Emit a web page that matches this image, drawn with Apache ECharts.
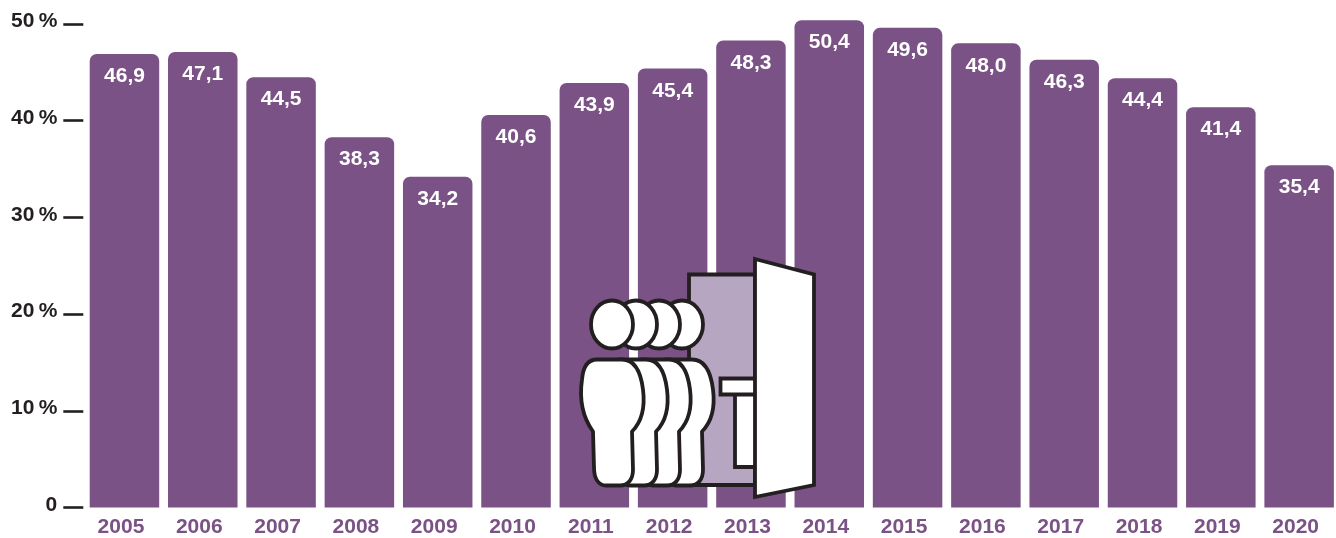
<!DOCTYPE html>
<html>
<head>
<meta charset="utf-8">
<style>html,body{margin:0;padding:0;background:#fff}#chart{width:1336px;height:538px}</style>
<script src="https://cdn.jsdelivr.net/npm/echarts@6/dist/echarts.min.js"></script>
</head>
<body>
<div id="chart"></div>
<script>
const years = ['2005','2006','2007','2008','2009','2010','2011','2012','2013','2014','2015','2016','2017','2018','2019','2020'];
const shares = [46.9,47.1,44.5,38.3,34.2,40.6,43.9,45.4,48.3,50.4,49.6,48.0,46.3,44.4,41.4,35.4];
const shareTicks = [0,10,20,30,40,50];

const PURPLE = '#7a5285';
const INK = '#231f20';
const FONT = '"Liberation Sans", Arial, sans-serif';
const comma = v => v.toFixed(1).replace('.', ',');

// Queue of people waiting at an open door, drawn over the bars
const bodyPath = 'M-15,0 C-25,0 -29,8 -30,20 C-32,34 -32,54 -19,72 L-18,108 C-18,120 -13,126 -6,126 L8,126 C16,126 21,120 21,110 L20,72 C30,62 33,46 31,30 C29,14 24,0 10,0 Z';
echarts.graphic.registerShape('personBody', echarts.graphic.extendPath(bodyPath, {}));

const personXs = [682, 659, 636, 612];
const line = { stroke: INK, lineWidth: 3.8, lineJoin: 'miter' };
const whiteLine = Object.assign({ fill: '#fff' }, line);
const roundLine = Object.assign({}, whiteLine, { lineJoin: 'round' });

const icon = [
  { type: 'rect', shape: { x: 689, y: 274.5, width: 66, height: 210.5 }, style: Object.assign({ fill: '#b7a6c2' }, line) },
  { type: 'rect', shape: { x: 735, y: 393, width: 22, height: 74 }, style: whiteLine },
  { type: 'rect', shape: { x: 720.5, y: 378.5, width: 36, height: 16 }, style: whiteLine },
  { type: 'polygon', shape: { points: [[755,259],[814,274.5],[814,485],[755,497]] }, style: whiteLine }
];
personXs.forEach(x => {
  icon.push({ type: 'ellipse', shape: { cx: x, cy: 324.5, rx: 21, ry: 24 }, style: whiteLine });
});
personXs.forEach(x => {
  icon.push({ type: 'personBody', x: x, y: 359.5, style: roundLine });
});
icon.forEach(el => { el.z = 100; });

const chart = echarts.init(document.getElementById('chart'), null, { renderer: 'canvas' });
chart.setOption({
  animation: false,
  backgroundColor: '#fff',
  textStyle: { fontFamily: FONT },
  grid: { left: 85.3, width: 1253, top: 24, bottom: 30.5, containLabel: false, outerBoundsMode: 'none' },
  xAxis: {
    type: 'category',
    data: years,
    axisLine: { show: false },
    axisTick: { show: false },
    axisLabel: { color: PURPLE, fontFamily: FONT, fontWeight: 'bold', fontSize: 21, margin: 9, interval: 0, padding: [0, 7, 0, 0] }
  },
  yAxis: {
    type: 'value',
    min: shareTicks[0],
    max: shareTicks[shareTicks.length - 1],
    interval: 10,
    offset: 2,
    splitLine: { show: false },
    axisLine: { show: false },
    axisTick: { show: true, length: 20, lineStyle: { color: INK, width: 2.6 } },
    axisLabel: {
      color: INK, fontFamily: FONT, fontWeight: 'bold', fontSize: 21, margin: 26,
      verticalAlign: 'bottom', lineHeight: 5,
      formatter: v => v === 0 ? '0' : v + '\u2009%'
    }
  },
  series: [{
    type: 'bar',
    data: shares,
    clip: false,
    barWidth: 69.5,
    itemStyle: { color: PURPLE, borderRadius: [7, 7, 0, 0] },
    label: {
      show: true, position: 'insideTop', distance: 12,
      color: '#fff', fontFamily: FONT, fontWeight: 'bold', fontSize: 21,
      formatter: p => comma(p.value)
    }
  }],
  graphic: icon
});
</script>
</body>
</html>
